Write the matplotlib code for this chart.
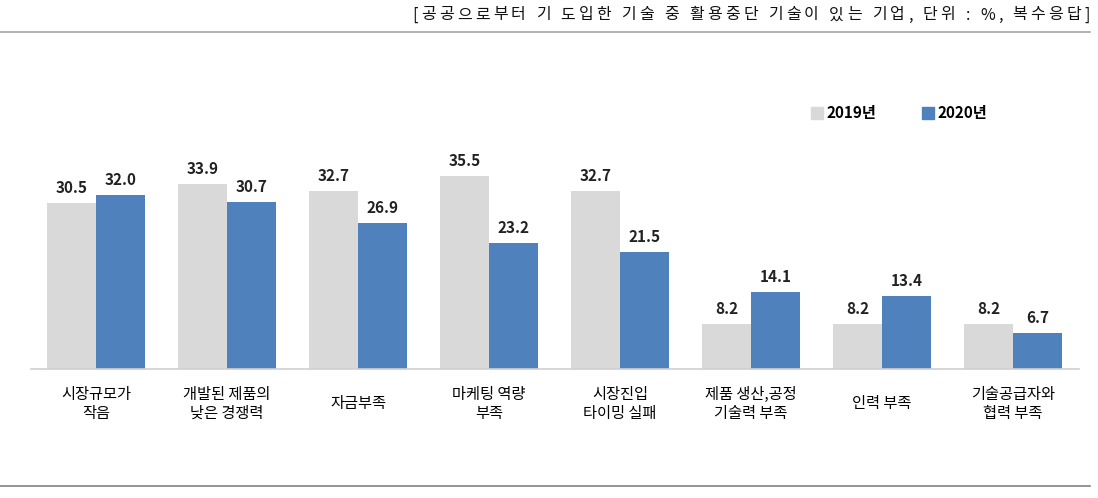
import matplotlib
matplotlib.use("Agg")
import matplotlib.pyplot as plt
import numpy as np
from matplotlib.lines import Line2D

plt.rcParams['font.family'] = ['Noto Sans CJK KR', 'DejaVu Sans']

categories = ["시장규모가\n작음", "개발된 제품의\n낮은 경쟁력", "자금부족", "마케팅 역량\n부족",
              "시장진입\n타이밍 실패", "제품 생산,공정\n기술력 부족", "인력 부족", "기술공급자와\n협력 부족"]
v2019 = [30.5, 33.9, 32.7, 35.5, 32.7, 8.2, 8.2, 8.2]
v2020 = [32.0, 30.7, 26.9, 23.2, 21.5, 14.1, 13.4, 6.7]
series_names = ["2019년", "2020년"]
colors = ["#d9d9d9", "#4f81bd"]
header = "[공공으로부터 기 도입한 기술 중 활용중단 기술이 있는 기업, 단위 : %, 복수응답]"

W, H = 1098, 498
fig = plt.figure(figsize=(W / 100, H / 100), dpi=100)
ax = fig.add_axes([30.5 / W, (H - 369) / H, 1048 / W, 245 / H])

x = np.arange(len(categories))
bw = 0.374
b1 = ax.bar(x - bw / 2, v2019, bw, color=colors[0], label=series_names[0])
b2 = ax.bar(x + bw / 2, v2020, bw, color=colors[1], label=series_names[1])

for bars, vals in ((b1, v2019), (b2, v2020)):
    for r, v in zip(bars, vals):
        ax.annotate(f"{v:.1f}", (r.get_x() + r.get_width() / 2, v),
                    xytext=(0, 5), textcoords="offset points",
                    ha="center", va="bottom", fontsize=11, fontweight="bold",
                    color="#222222")

for xi, lab in zip(x, categories):
    ax.annotate(lab, (xi, 0), xycoords=("data", "axes fraction"),
                xytext=(0, -25), textcoords="offset points",
                ha="center", va="center", fontsize=11, fontweight="medium",
                color="#000000", linespacing=1.15)

ax.set_xlim(-0.5, len(categories) - 0.5)
ax.set_ylim(0, 45)
ax.set_xticks([])
ax.set_yticks([])
for s in ("top", "right", "left"):
    ax.spines[s].set_visible(False)
ax.spines["bottom"].set_color("#d0d0d0")
ax.spines["bottom"].set_linewidth(1.2)

handles = [Line2D([], [], marker="s", linestyle="none", markersize=9,
                  markerfacecolor=c, markeredgecolor=c) for c in colors]
leg = fig.legend(handles, series_names, loc="center left",
                 bbox_to_anchor=(797 / W, (H - 113) / H), ncol=2, frameon=False,
                 handletextpad=0.2, columnspacing=3.0, handlelength=0.8,
                 prop={"size": 11, "weight": "bold"})

# header with letter spacing (wide font in the original)
renderer = fig.canvas.get_renderer()
x0, x1, yh = 412, 1090, H - 15
hsize = 11.5
widths = []
for ch in header:
    t = fig.text(0, 0, ch if ch != " " else "\u00a0", fontsize=hsize)
    widths.append(t.get_window_extent(renderer).width)
    t.remove()
extra = ((x1 - x0) - sum(widths)) / (len(header) - 1)
pos = x0
for ch, w in zip(header, widths):
    if ch != " ":
        fig.text(pos / W, yh / H, ch, ha="left", va="center", fontsize=hsize,
                 color="#111111")
    pos += w + extra

fig.add_artist(Line2D([0, 1090 / W], [(H - 32) / H] * 2, color="#a6a6a6", lw=1.2))
fig.add_artist(Line2D([0, 1090 / W], [(H - 486) / H] * 2, color="#808080", lw=1.2))

fig.savefig("out.png", dpi=100)
